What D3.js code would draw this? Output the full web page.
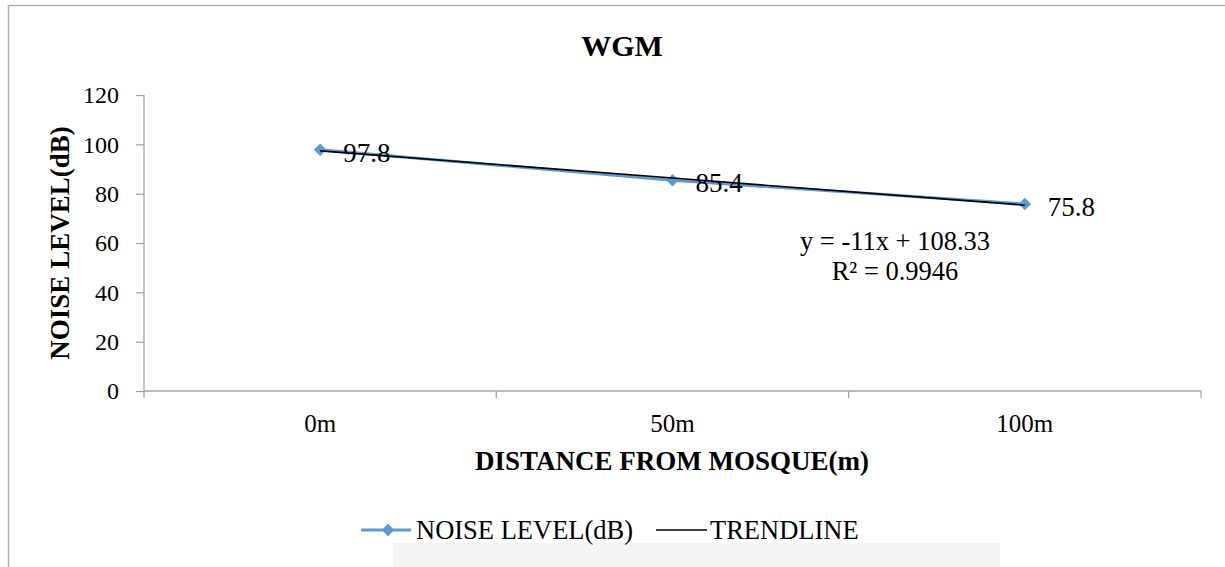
<!DOCTYPE html>
<html>
<head>
<meta charset="utf-8">
<script src="https://cdn.jsdelivr.net/npm/d3@7"></script>
<style>
  body { margin: 0; background: #fff; }
</style>
</head>
<body>
<div id="chart"></div>
<script>
const categories = ["0m", "50m", "100m"]
const noiseLevels = [97.8, 85.4, 75.8]
const yTicks = [0, 20, 40, 60, 80, 100, 120]
const trendSlope = -11
const trendIntercept = 108.33
const trendLabel = ["y = -11x + 108.33", "R² = 0.9946"]

const FONT = "Liberation Serif"
const W = 1225, H = 567
const margin = { top: 95, right: 24, bottom: 176, left: 144 }
const width = W - margin.left - margin.right
const height = H - margin.top - margin.bottom

const svg = d3.select("#chart").append("svg")
  .attr("width", W).attr("height", H)

// outer chart border
svg.append("rect")
  .attr("x", 8.5).attr("y", 5.5)
  .attr("width", W + 10).attr("height", H + 10)
  .attr("fill", "none").attr("stroke", "#b0b0b0").attr("stroke-width", 1.5)

// faint background strip from the source scan
svg.append("rect")
  .attr("x", 393).attr("y", 543).attr("width", 607).attr("height", 30)
  .attr("fill", "#f4f4f7")

const g = svg.append("g").attr("transform", `translate(${margin.left},${margin.top})`)

const x = d3.scaleBand().domain(categories).range([0, width])
const y = d3.scaleLinear().domain([0, 120]).range([height, 0])
const cx = (d) => x(d) + x.bandwidth() / 2

// y axis
const yAxis = g.append("g").call(d3.axisLeft(y).tickValues(yTicks).tickSize(8).tickPadding(17))
yAxis.attr("font-family", FONT).attr("font-size", 24)
yAxis.selectAll("text").attr("fill", "#000")
yAxis.selectAll("line, path").attr("stroke", "#a6a6a6").attr("stroke-width", 1.3)
yAxis.select(".domain").attr("d", `M0,${y(120)}V${y(0)}`)

// x axis with ticks at band edges
const xAxis = g.append("g").attr("transform", `translate(0,${height})`)
xAxis.append("line").attr("x1", 0).attr("x2", width)
  .attr("stroke", "#a6a6a6").attr("stroke-width", 1.3)
xAxis.selectAll(".edge")
  .data(categories.map((c) => x(c)).concat([width]))
  .join("line")
  .attr("x1", (d) => d).attr("x2", (d) => d)
  .attr("y1", 0).attr("y2", 7)
  .attr("stroke", "#a6a6a6").attr("stroke-width", 1.3)
xAxis.selectAll(".lab")
  .data(categories)
  .join("text")
  .attr("x", (d) => cx(d)).attr("y", 41)
  .attr("text-anchor", "middle")
  .attr("font-family", FONT).attr("font-size", 25)
  .text((d) => d)

// title and axis titles
svg.append("text").attr("x", 622).attr("y", 56)
  .attr("text-anchor", "middle").attr("font-family", FONT)
  .attr("font-size", 30).attr("font-weight", "bold")
  .text("WGM")
svg.append("text").attr("x", 672).attr("y", 470)
  .attr("text-anchor", "middle").attr("font-family", FONT)
  .attr("font-size", 27).attr("font-weight", "bold")
  .text("DISTANCE FROM MOSQUE(m)")
svg.append("text")
  .attr("transform", "translate(69,243) rotate(-90)")
  .attr("text-anchor", "middle").attr("font-family", FONT)
  .attr("font-size", 27).attr("font-weight", "bold")
  .text("NOISE LEVEL(dB)")

// data series
const line = d3.line().x((d, i) => cx(categories[i])).y((d) => y(d))
g.append("path").datum(noiseLevels)
  .attr("d", line).attr("fill", "none")
  .attr("stroke", "#5b9bd5").attr("stroke-width", 3)

const diamond = d3.symbol().type(d3.symbolDiamond2).size(100)
g.selectAll(".pt").data(noiseLevels).join("path")
  .attr("transform", (d, i) => `translate(${cx(categories[i])},${y(d)})`)
  .attr("d", diamond).attr("fill", "#5b9bd5")

// linear trendline
const trend = categories.map((c, i) => trendSlope * (i + 1) + trendIntercept)
g.append("path").datum(trend)
  .attr("d", line).attr("fill", "none")
  .attr("stroke", "#000").attr("stroke-width", 1.6)

// data labels
g.selectAll(".dl").data(noiseLevels).join("text")
  .attr("x", (d, i) => cx(categories[i]) + 23)
  .attr("y", (d) => y(d) + 12)
  .attr("font-family", FONT).attr("font-size", 27)
  .text((d) => d)

// trendline equation
g.selectAll(".eq").data(trendLabel).join("text")
  .attr("x", 751).attr("y", (d, i) => 155 + i * 30)
  .attr("text-anchor", "middle")
  .attr("font-family", FONT).attr("font-size", 26.5)
  .text((d) => d)

// legend
const legend = svg.append("g").attr("transform", "translate(0,530)")
legend.append("line").attr("x1", 361).attr("x2", 411)
  .attr("stroke", "#5b9bd5").attr("stroke-width", 3)
legend.append("path").attr("transform", "translate(388,0)")
  .attr("d", diamond).attr("fill", "#5b9bd5")
legend.append("text").attr("x", 416).attr("y", 9)
  .attr("font-family", FONT).attr("font-size", 26.5)
  .text("NOISE LEVEL(dB)")
legend.append("line").attr("x1", 656).attr("x2", 707)
  .attr("stroke", "#000").attr("stroke-width", 1.6)
legend.append("text").attr("x", 710).attr("y", 9)
  .attr("font-family", FONT).attr("font-size", 26.5)
  .text("TRENDLINE")
</script>
</body>
</html>
